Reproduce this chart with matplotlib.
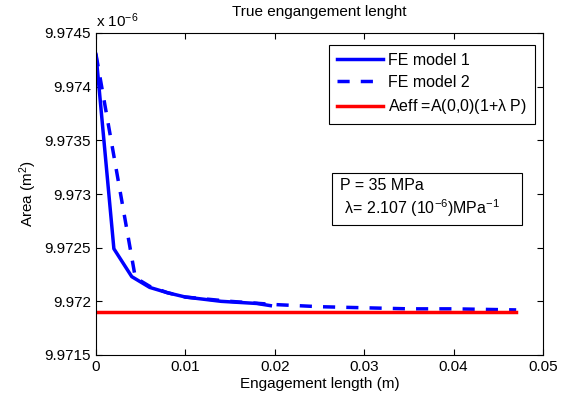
import numpy as np
import matplotlib.pyplot as plt
from matplotlib.patches import Rectangle
from matplotlib.ticker import FuncFormatter

plt.rcParams['font.family'] = ['Liberation Sans', 'DejaVu Sans']
plt.rcParams['mathtext.default'] = 'regular'
plt.rcParams['font.size'] = 11

# FE model 1 (solid)
x_fe1 = [0, 0.002, 0.004, 0.006, 0.008, 0.010, 0.012, 0.014, 0.016, 0.018, 0.0195]
y_fe1 = [9.97430, 9.97249, 9.97223, 9.97213, 9.97208, 9.97204, 9.97202, 9.97200, 9.97199, 9.97198, 9.97196]

# FE model 2 (dashed)
x_fe2 = [0, 0.0044, 0.006, 0.008, 0.010, 0.015, 0.020, 0.025, 0.030, 0.035, 0.040, 0.047]
y_fe2 = [9.97430, 9.97222, 9.97214, 9.97208, 9.97204, 9.97200, 9.97197, 9.97195, 9.97194, 9.97193, 9.97193, 9.97192]

# analytical Aeff
x_aeff = [0, 0.047]
y_aeff = [9.97190, 9.97190]

fig = plt.figure(figsize=(5.63, 4.03), dpi=100)
ax = fig.add_axes([96/563, 48/403, 447/563, 322/403])

ax.plot(x_fe1, y_fe1, color='blue', linewidth=2.5, label='FE model 1')
ax.plot(x_fe2, y_fe2, color='blue', linewidth=2.5, linestyle=(0, (3.5, 3.2)), label='FE model 2')
ax.plot(x_aeff, y_aeff, color='red', linewidth=2.5, label=r'Aeff =A(0,0)(1+$\lambda$ P)')

ax.set_xlim(0, 0.05)
ax.set_ylim(9.9715, 9.9745)
ax.set_xticks(np.arange(0, 0.0501, 0.01))
ax.set_yticks(np.arange(9.9715, 9.97451, 0.0005))
ax.xaxis.set_major_formatter(FuncFormatter(lambda v, p: '%g' % round(v, 4)))
ax.yaxis.set_major_formatter(FuncFormatter(lambda v, p: '%g' % round(v, 5)))
ax.tick_params(direction='in', top=True, right=True, length=4, labelsize=11)

ax.set_title('True engangement lenght', fontsize=11, pad=12)
ax.set_xlabel('Engagement length (m)', labelpad=2)
ax.set_ylabel('Area (m$^2$)')
ax.text(0, 1.008, r'x 10$^{-6}$', transform=ax.transAxes, ha='left', va='bottom', fontsize=11)

leg = ax.legend(loc='upper right', bbox_to_anchor=(0.982, 0.963), fancybox=False,
                edgecolor='black', framealpha=1, handlelength=2.9, borderpad=0.5,
                labelspacing=0.45, handletextpad=0.3, borderaxespad=0, fontsize=11.5)
leg.get_frame().set_linewidth(0.8)

# parameter box
ax.add_patch(Rectangle((0.528, 0.404), 0.425, 0.161, transform=ax.transAxes,
                       facecolor='white', edgecolor='black', linewidth=0.8, zorder=4))
ax.text(0.546, 0.486, 'P = 35 MPa\n $\\lambda$= 2.107 (10$^{-6}$)MPa$^{-1}$', transform=ax.transAxes,
        ha='left', va='center', fontsize=11.5, linespacing=1.3, zorder=5)

fig.savefig('out.png', dpi=100)
